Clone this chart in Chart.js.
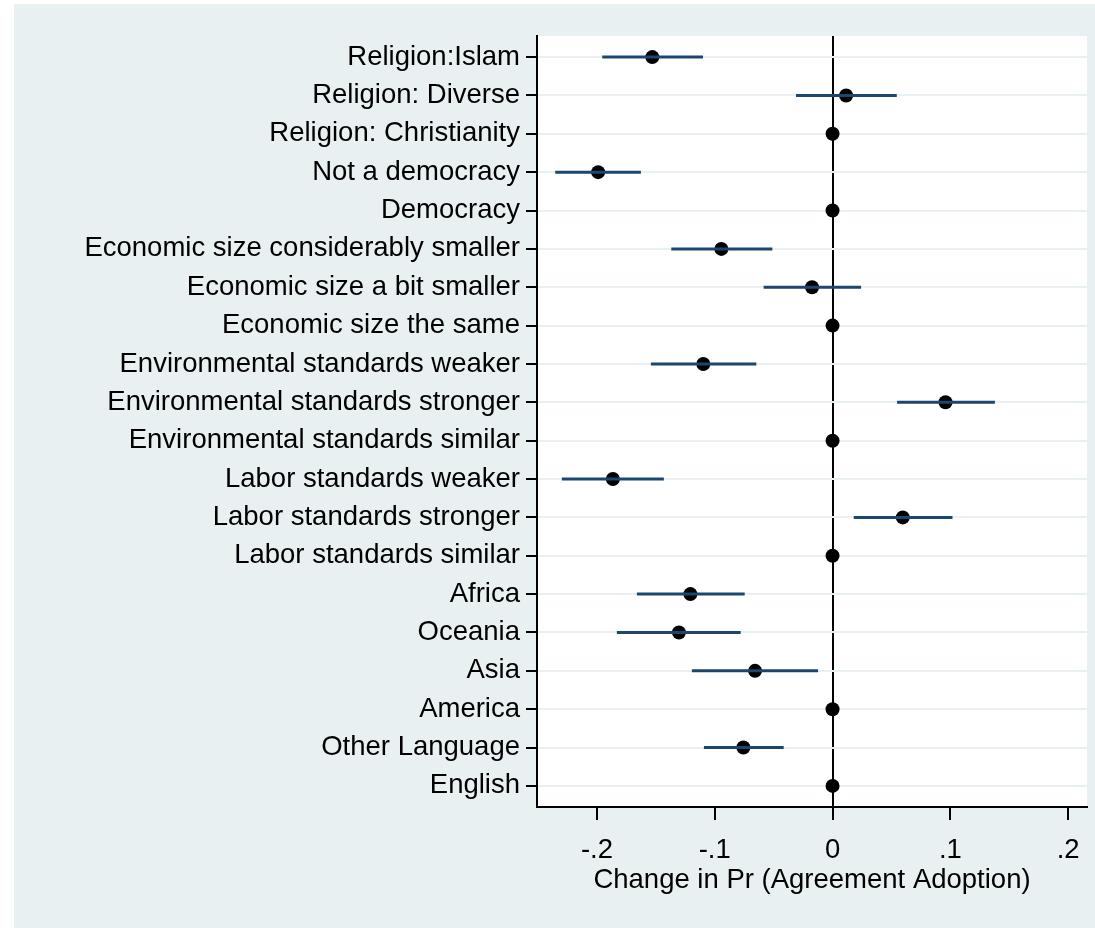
<!DOCTYPE html>
<html>
<head>
<meta charset="utf-8">
<script src="https://cdn.jsdelivr.net/npm/chart.js@4.4.1/dist/chart.umd.min.js"></script>
<style>
  html, body { margin: 0; padding: 0; background: #ffffff; }
  #wrap { width: 1095px; height: 928px; position: relative; }
</style>
</head>
<body>
<div id="wrap"><canvas id="c" width="1095" height="928"></canvas></div>
<script>
// Marginal effects on the probability of agreement adoption, with 95% intervals.
const categories = [
  'Religion:Islam',
  'Religion: Diverse',
  'Religion: Christianity',
  'Not a democracy',
  'Democracy',
  'Economic size considerably smaller',
  'Economic size a bit smaller',
  'Economic size the same',
  'Environmental standards weaker',
  'Environmental standards stronger',
  'Environmental standards similar',
  'Labor standards weaker',
  'Labor standards stronger',
  'Labor standards similar',
  'Africa',
  'Oceania',
  'Asia',
  'America',
  'Other Language',
  'English'
];
const estimates = [
  -0.153, 0.0115, 0, -0.199, 0, -0.0944, -0.0174, 0, -0.1097, 0.0959,
  0, -0.1865, 0.0596, 0, -0.1207, -0.1304, -0.0658, 0, -0.0757, 0
];
// Reference categories (fixed at zero) have no interval.
const ciLow = [
  -0.1955, -0.031, null, -0.2354, null, -0.1369, -0.0585, null, -0.1542, 0.0548,
  null, -0.2298, 0.018, null, -0.1661, -0.1831, -0.1194, null, -0.1092, null
];
const ciHigh = [
  -0.110, 0.0545, null, -0.1627, null, -0.0511, 0.0242, null, -0.0647, 0.1378,
  null, -0.1432, 0.1018, null, -0.0746, -0.078, -0.0123, null, -0.0415, null
];
const xTicks = [-0.2, -0.1, 0, 0.1, 0.2];
const xTickLabels = ['-.2', '-.1', '0', '.1', '.2'];

const BG = '#e9f0f2';
const GRID = '#e8f0f2';
const NAVY = '#1a476f';
const FONT = "'Liberation Sans', Arial, Helvetica, sans-serif";
const FONT_SIZE = 27.5;

// interval segments, separated by gaps
const ciPoints = [];
categories.forEach((c, i) => {
  if (ciLow[i] === null) return;
  ciPoints.push({ x: ciLow[i], y: i + 1 });
  ciPoints.push({ x: ciHigh[i], y: i + 1 });
  ciPoints.push({ x: null, y: null });
});
const estPoints = estimates.map((v, i) => ({ x: v, y: i + 1 }));

const backgroundPlugin = {
  id: 'panelBackground',
  beforeDraw(chart) {
    const { ctx, chartArea } = chart;
    ctx.save();
    ctx.fillStyle = '#ffffff';
    ctx.fillRect(0, 0, chart.width, chart.height);
    ctx.fillStyle = BG;
    ctx.fillRect(14, 4, chart.width - 14, chart.height - 4);
    ctx.fillStyle = '#ffffff';
    ctx.fillRect(chartArea.left, chartArea.top, chartArea.right - chartArea.left, chartArea.bottom - chartArea.top);
    ctx.restore();
  }
};

new Chart(document.getElementById('c'), {
  type: 'scatter',
  data: {
    datasets: [
      {
        label: 'CI',
        data: ciPoints,
        showLine: true,
        spanGaps: false,
        borderColor: NAVY,
        borderWidth: 3,
        pointRadius: 0,
        pointHoverRadius: 0
      },
      {
        label: 'Estimate',
        data: estPoints,
        showLine: false,
        backgroundColor: '#000000',
        borderColor: '#000000',
        pointRadius: 7,
        pointBorderWidth: 0
      }
    ]
  },
  options: {
    responsive: false,
    devicePixelRatio: 1,
    animation: false,
    layout: { padding: { top: 36, right: 8, left: 0, bottom: 0 } },
    plugins: { legend: { display: false }, tooltip: { enabled: false } },
    scales: {
      x: {
        type: 'linear',
        min: -0.2509,
        max: 0.216,
        afterBuildTicks: (scale) => { scale.ticks = xTicks.map(v => ({ value: v })); },
        afterFit: (scale) => { scale.height = 121; },
        ticks: {
          callback: (v) => xTickLabels[xTicks.findIndex(t => Math.abs(t - v) < 1e-9)],
          color: '#000',
          font: { family: FONT, size: FONT_SIZE },
          padding: 14,
          maxRotation: 0
        },
        grid: {
          drawOnChartArea: true,
          color: (ctx) => (ctx.tick && Math.abs(ctx.tick.value) < 1e-9 ? '#000000' : 'rgba(0,0,0,0)'),
          lineWidth: 2,
          tickColor: '#000',
          tickLength: 13
        },
        border: { display: true, color: '#000', width: 2 },
        title: {
          display: true,
          text: 'Change in Pr (Agreement Adoption)',
          color: '#000',
          font: { family: FONT, size: FONT_SIZE },
          padding: { top: 0, bottom: 31 }
        }
      },
      y: {
        type: 'linear',
        reverse: true,
        min: 0.45,
        max: 20.55,
        afterBuildTicks: (scale) => { scale.ticks = categories.map((_, i) => ({ value: i + 1 })); },
        afterFit: (scale) => { scale.width = 537; },
        ticks: {
          autoSkip: false,
          callback: (v) => categories[Math.round(v) - 1],
          color: '#000',
          font: { family: FONT, size: FONT_SIZE },
          padding: 6
        },
        grid: {
          color: GRID,
          lineWidth: 2,
          tickColor: '#000',
          tickLength: 11
        },
        border: { display: true, color: '#000', width: 2 }
      }
    }
  },
  plugins: [backgroundPlugin]
});
</script>
</body>
</html>
